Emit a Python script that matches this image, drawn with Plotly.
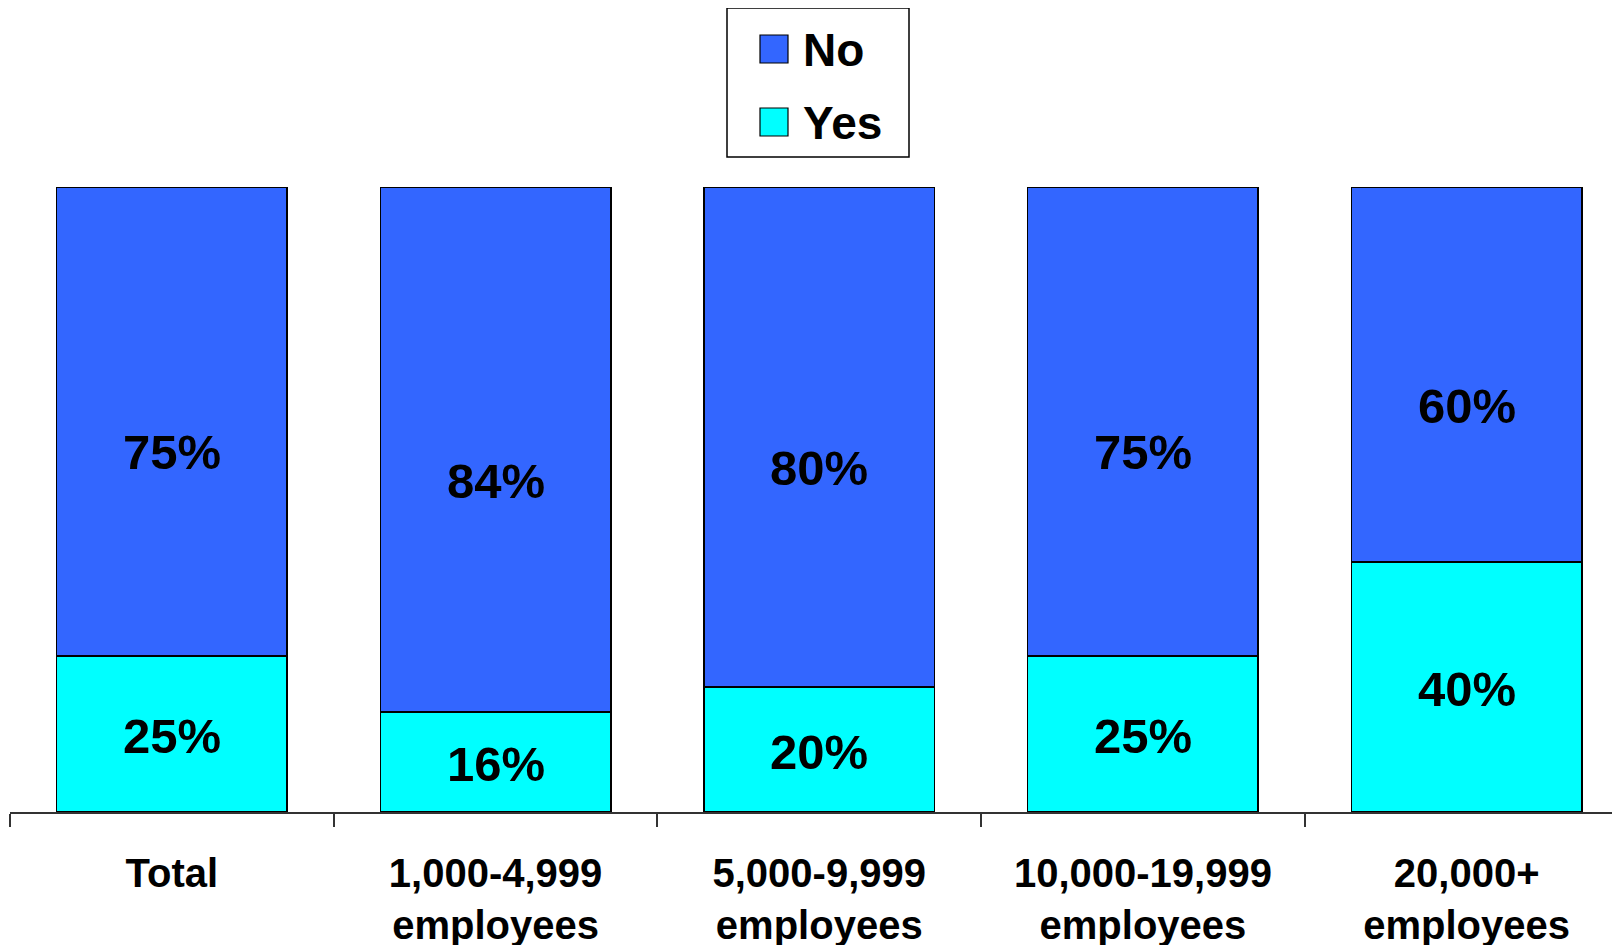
import plotly.graph_objects as go

categories = ["Total", "1,000-4,999<br>employees", "5,000-9,999<br>employees",
              "10,000-19,999<br>employees", "20,000+<br>employees"]
yes_values = [25, 16, 20, 25, 40]
no_values = [75, 84, 80, 75, 60]
series_names = ["No", "Yes"]
series_colors = {"No": "#3366FF", "Yes": "#00FFFF"}

OFF = 8  # default page body margin
W, H = 1620, 945
L, R, T, B = 10 - OFF, OFF, 187 - OFF, H - (812 - OFF)
PW, PH = W - L - R, H - T - B
FONT = "Arial, 'Liberation Sans', sans-serif"


def px2x(px):
    return (px - OFF - L) / PW


def px2y(py):
    return (H - B - (py - OFF)) / PH


fig = go.Figure()
fig.add_trace(go.Bar(x=categories, y=yes_values, name="Yes",
                     marker=dict(color=series_colors["Yes"], line=dict(color="black", width=1.5)),
                     width=0.712, showlegend=False, hoverinfo="skip"))
fig.add_trace(go.Bar(x=categories, y=no_values, name="No",
                     marker=dict(color=series_colors["No"], line=dict(color="black", width=1.5)),
                     width=0.712, showlegend=False, hoverinfo="skip"))

annotations = []
for c, yv, nv in zip(categories, yes_values, no_values):
    annotations.append(dict(x=c, y=yv / 2, xref="x", yref="y", text=f"<b>{yv}%</b>",
                            showarrow=False, yshift=-2,
                            font=dict(family=FONT, size=49, color="black")))
    annotations.append(dict(x=c, y=yv + nv / 2, xref="x", yref="y", text=f"<b>{nv}%</b>",
                            showarrow=False, yshift=-31,
                            font=dict(family=FONT, size=49, color="black")))

# custom legend
shapes = [dict(type="rect", xref="paper", yref="paper",
               x0=px2x(727), x1=px2x(909), y0=px2y(157), y1=px2y(8),
               line=dict(color="black", width=1.5), fillcolor="white")]
for i, name in enumerate(series_names):
    top = 35 + i * 73
    shapes.append(dict(type="rect", xref="paper", yref="paper",
                       x0=px2x(760), x1=px2x(788), y0=px2y(top + 28), y1=px2y(top),
                       line=dict(color="black", width=1.2), fillcolor=series_colors[name]))
    annotations.append(dict(x=px2x(801), y=px2y(top + 15), xref="paper", yref="paper",
                            xanchor="left", yanchor="middle", showarrow=False,
                            text=f"<b>{name}</b>",
                            font=dict(family=FONT, size=46, color="black")))

fig.update_layout(
    barmode="stack",
    width=W, height=H,
    margin=dict(l=L, r=R, t=T, b=B, pad=0),
    paper_bgcolor="white", plot_bgcolor="white",
    annotations=annotations, shapes=shapes,
    showlegend=False,
    xaxis=dict(type="category", range=[-0.5, -0.5 + (1620 - 10) / 323.7],
               tickson="boundaries", ticks="outside", ticklen=13, tickcolor="#333333",
               tickwidth=1.5, showline=True, linecolor="#333333", linewidth=1.5,
               showgrid=False, zeroline=False, ticklabelstandoff=25,
               tickfont=dict(family=FONT, size=40, color="black"),
               tickangle=0),
    yaxis=dict(range=[0, 100], visible=False, showgrid=False, zeroline=False),
)
fig.update_xaxes(ticktext=[f"<b>{c}</b>" for c in categories], tickvals=categories)

fig.write_html("out.html")
